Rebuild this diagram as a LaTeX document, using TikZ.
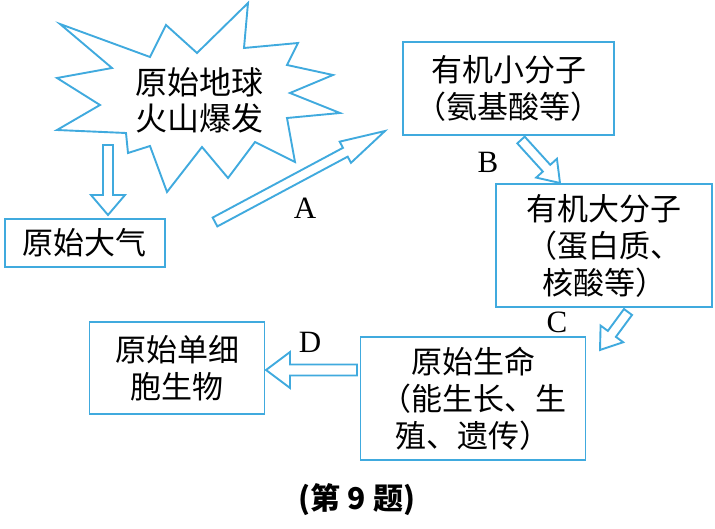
\documentclass[tikz,border=0pt]{standalone}
\usepackage{fontspec}
\setmainfont{Liberation Serif}
\newfontfamily\cjk{Noto Sans CJK SC}
\usepackage{tikz}
\usetikzlibrary{calc,positioning}
\definecolor{celeste}{RGB}{64,170,222}
\tikzset{
  caja/.style={draw=celeste,line width=1.9pt,align=center,inner sep=0pt,
    font=\cjk\fontsize{31}{37}\selectfont},
  letra/.style={font=\fontsize{31}{31}\selectfont},
  hueca/.style={draw=celeste,line width=1.9pt,line join=miter}
}
% flecha hueca: desde, hasta, medio grosor, largo punta, media punta
\newcommand\flechahueca[5]{%
  \coordinate (hb) at ($(#2)!#4!(#1)$);
  \draw[hueca] ($(#1)!#3!90:(#2)$) -- ($(hb)!#3!90:(#2)$) -- ($(hb)!#5!90:(#2)$) -- (#2)
    -- ($(hb)!#5!-90:(#2)$) -- ($(hb)!#3!-90:(#2)$) -- ($(#1)!#3!-90:(#2)$) -- cycle;}

\begin{document}
\begin{tikzpicture}[x=1pt,y=-1pt]
\useasboundingbox (0,0) rectangle (715,529);
% estallido
\draw[hueca] (60,24)--(112,68)--(57,78)--(100,105)--(57,130)--(126,133)--(128,153)
  --(150,146)--(167,192)--(202,147)--(228,178)--(255,142)--(295,162)--(287,118)
  --(340,113)--(290,93)--(333,75)--(287,65)--(298,43)--(244,48)--(248,3)
  --(197,53)--(166,25)--(150,57)--cycle;
\node[font=\cjk\fontsize{32}{36}\selectfont,align=center] (volcan) at (199,100) {原始地球\\火山爆发};
% cajas
\node[caja,minimum width=160pt,minimum height=48pt] (atmosfera) at (85,243) {原始大气};
\node[caja,minimum width=211pt,minimum height=93pt] (pequenas) at (508.5,88.5) {有机小分子\\（氨基酸等）};
\node[caja,minimum width=216pt,minimum height=123pt] (grandes) at (604,245.5) {有机大分子\\（蛋白质、\\核酸等）};
\node[caja,minimum width=225pt,minimum height=123pt] (vida) at (473,398.5) {原始生命\\（能生长、生\\殖、遗传）};
\node[caja,minimum width=175pt,minimum height=92pt] (celula) at (177,368) {原始单细\\胞生物};
% flechas
\coordinate (v0) at (108,145); \coordinate (v1) at (108,215);
\coordinate (a0) at (215,222); \coordinate (a1) at (385,131);
\coordinate (b0) at (521,140); \coordinate (b1) at (560,183);
\coordinate (c0) at (628,312); \coordinate (c1) at (600,350);
\coordinate (d0) at (357,370); \coordinate (d1) at (266,370);
\flechahueca{v0}{v1}{5pt}{20pt}{17pt}
\flechahueca{a0}{a1}{5pt}{45pt}{12pt}
\flechahueca{b0}{b1}{5pt}{20pt}{14pt}
\flechahueca{c0}{c1}{5pt}{20pt}{14pt}
\flechahueca{d0}{d1}{5.5pt}{24pt}{18pt}
\node[letra] (la) at (305,208) {A};
\node[letra] (lb) at (488,162) {B};
\node[letra] (lc) at (557,322) {C};
\node[letra] (ld) at (310,342) {D};
\node[font=\cjk\bfseries\fontsize{30}{30}\selectfont] (titulo) at (357,500) {(第 9 题)};
\end{tikzpicture}
\end{document}
